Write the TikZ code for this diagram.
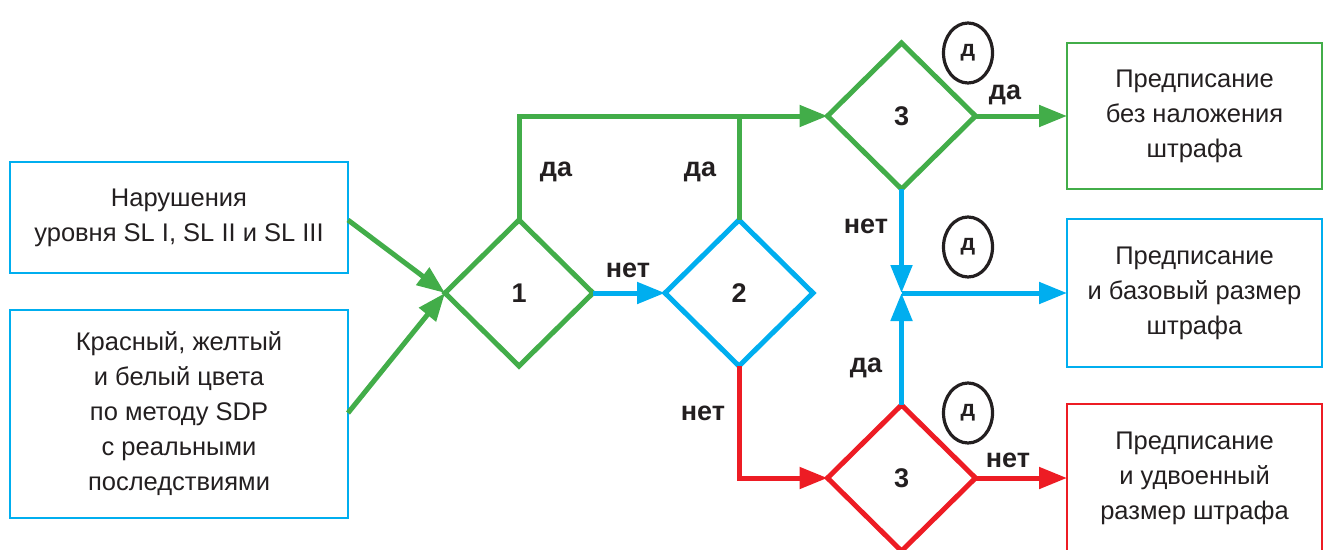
\documentclass[tikz,border=0pt]{standalone}
\usepackage{fontspec}
\setmainfont{Liberation Sans}
\usetikzlibrary{shapes.geometric,arrows.meta}
\definecolor{cgreen}{RGB}{66,173,73}
\definecolor{cblue}{RGB}{0,174,239}
\definecolor{cred}{RGB}{237,28,36}
\definecolor{ctext}{RGB}{35,31,32}
\tikzset{
  box/.style={draw, line width=2.5pt, inner sep=0pt, outer sep=0pt, align=center, text=ctext,
    font=\fontsize{25.5}{35}\selectfont},
  dec/.style={diamond, draw, line width=5pt, inner sep=0pt, outer sep=0pt, minimum width=148pt,
    minimum height=146pt, text=ctext, font=\fontsize{27}{30}\selectfont\bfseries},
  lab/.style={text=ctext, font=\fontsize{27}{30}\selectfont\bfseries, inner sep=0pt},
  dmark/.style={ellipse, draw=ctext, line width=3.2pt, minimum width=49pt, minimum height=60pt,
    inner sep=0pt, text=ctext, font=\fontsize{23}{26}\selectfont\bfseries},
  conn/.style={line width=5pt, -{Triangle[length=28pt,width=21pt]}},
  plain/.style={line width=5pt}
}
\begin{document}
\begin{tikzpicture}[x=1pt,y=-1pt]
\useasboundingbox (0,0) rectangle (1324,549);
% input boxes
\node[box, draw=cblue, minimum width=338pt, minimum height=111pt] (a) at (179,217.5)
  {Нарушения\\уровня SL I, SL II и SL III};
\node[box, draw=cblue, minimum width=338pt, minimum height=208pt] (b) at (179,414)
  {Красный, желтый\\и белый цвета\\по методу SDP\\с реальными\\последствиями};
% decisions
\node[dec, draw=cgreen] (d1) at (519,293) {1};
\node[dec, draw=cblue] (d2) at (739,293) {2};
\node[dec, draw=cgreen] (d3a) at (901.5,116) {3};
\node[dec, draw=cred] (d3b) at (901.5,478) {3};
% result boxes
\node[box, draw=cgreen, minimum width=255pt, minimum height=146pt] (r1) at (1194.5,116)
  {Предписание\\без наложения\\штрафа};
\node[box, draw=cblue, minimum width=255pt, minimum height=148pt] (r2) at (1194.5,293)
  {Предписание\\и базовый размер\\штрафа};
\node[box, draw=cred, minimum width=255pt, minimum height=148pt] (r3) at (1194.5,478)
  {Предписание\\и удвоенный\\размер штрафа};
% marks
\node[dmark] (m1) at (968,53) {д};
\node[dmark] (m2) at (968,247) {д};
\node[dmark] (m3) at (968,413) {д};
% connectors
\coordinate (j) at (d3a.south |- d2.east);
\draw[conn, cgreen] (a.east |- 0,220) -- (d1.west);
\draw[conn, cgreen] (b.east |- 0,413) -- (d1.west);
\draw[conn, cgreen] (d1.north) |- (d3a.west);
\draw[plain, cgreen] (d2.north) -- (d2.north |- d3a.west);
\draw[conn, cblue] (d1.east) -- (d2.west);
\draw[conn, cgreen] (d3a.east) -- (r1.west);
\draw[conn, cblue] (d3a.south) -- (j);
\draw[conn, cblue] (d3b.north) -- (j);
\draw[conn, cblue] (j) -- (r2.west);
\draw[conn, cred] (d2.south) |- (d3b.west);
\draw[conn, cred] (d3b.east) -- (r3.west);
% labels
\node[lab] (l1) at (556,172) {да};
\node[lab] (l2) at (700,172) {да};
\node[lab] (l3) at (628,270) {нет};
\node[lab] (l4) at (866,226) {нет};
\node[lab] (l5) at (866,368) {да};
\node[lab] (l6) at (1005,95) {да};
\node[lab] (l7) at (1008,460) {нет};
\node[lab] (l8) at (703,413) {нет};
\end{tikzpicture}
\end{document}
